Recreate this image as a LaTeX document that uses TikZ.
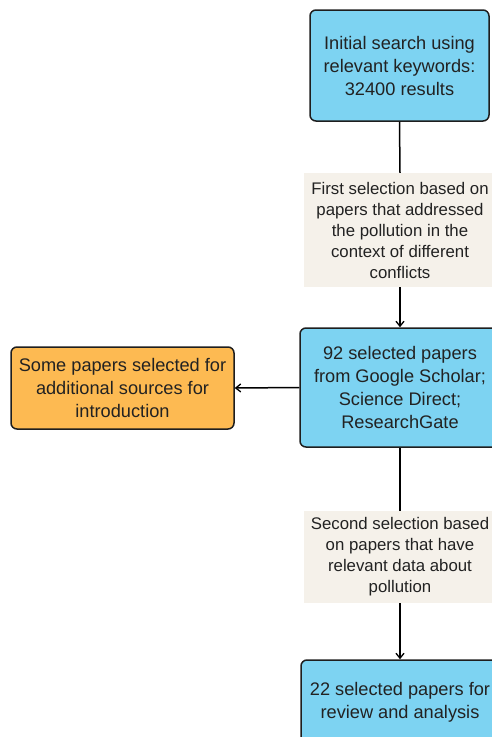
\documentclass[tikz,border=0pt]{standalone}
\usepackage{fontspec}
\setmainfont{Liberation Sans}
\usetikzlibrary{arrows.meta}
\definecolor{boxblue}{HTML}{7DD3F2}
\definecolor{boxorange}{HTML}{FDBA52}
\definecolor{labelbeige}{HTML}{F5F1EA}
\definecolor{edgedark}{HTML}{1E1E1E}
\definecolor{txt}{HTML}{222222}
\begin{document}
\begin{tikzpicture}[x=1pt,y=-1pt,
  bluebox/.style={draw=edgedark,line width=1.5pt,rounded corners=6pt,fill=boxblue,
    align=center,text=txt,inner sep=0pt,font=\fontsize{18.2}{23}\selectfont},
  orangebox/.style={draw=edgedark,line width=1.5pt,rounded corners=6pt,fill=boxorange,
    align=center,text=txt,inner sep=0pt,font=\fontsize{18.2}{23}\selectfont},
  labelbox/.style={fill=labelbeige,align=center,text=txt,inner sep=0pt,
    font=\fontsize{16.8}{21}\selectfont},
  conn/.style={draw=black,line width=1.5pt},
  arr/.style={conn,-{Straight Barb[length=5pt,width=8pt,line width=1.3pt]}}
]
\useasboundingbox (0,0) rectangle (492,737);
\clip (0,0) rectangle (492,737);
\node[bluebox,minimum width=179pt,minimum height=111pt] (b1) at (399.5,65.5)
  {Initial search using\\relevant keywords:\\32400 results};
\node[labelbox,minimum width=192pt,minimum height=114pt] (l1) at (400,230)
  {First selection based on\\papers that addressed\\the pollution in the\\context of different\\conflicts};
\node[bluebox,minimum width=200pt,minimum height=119pt] (b2) at (400,387.5)
  {92 selected papers\\from Google Scholar;\\Science Direct;\\ResearchGate};
\node[orangebox,minimum width=223pt,minimum height=82pt] (o1) at (122.5,388)
  {Some papers selected for\\additional sources for\\introduction};
\node[labelbox,minimum width=192pt,minimum height=92pt] (l2) at (400,557)
  {Second selection based\\on papers that have\\relevant data about\\pollution};
\node[bluebox,minimum width=198pt,minimum height=84pt] (b3) at (400,702)
  {22 selected papers for\\review and analysis};
\draw[conn] (b1.south) -- (l1.north);
\draw[arr] (l1.south) -- (b2.north);
\draw[arr] (b2.west) -- (o1.east);
\draw[conn] (b2.south) -- (l2.north);
\draw[arr] (l2.south) -- (b3.north);
\end{tikzpicture}
\end{document}
